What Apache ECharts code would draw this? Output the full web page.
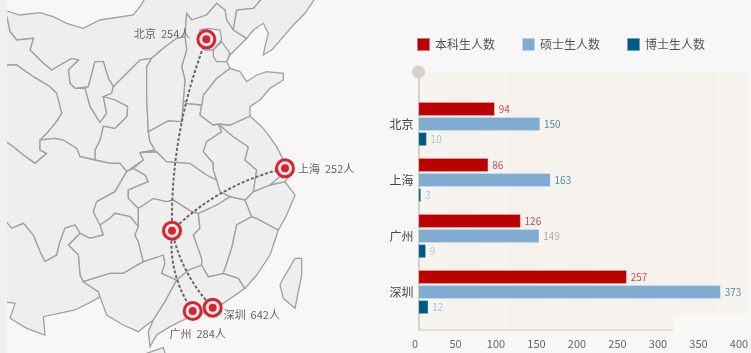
<!DOCTYPE html>
<html>
<head>
<meta charset="utf-8">
<title>学生人数分布</title>
<script src="https://cdn.jsdelivr.net/npm/echarts@6/dist/echarts.min.js"></script>
<style>
  html, body { margin: 0; padding: 0; background: #f7f7f7; overflow: hidden; }
  #chart { width: 751px; height: 353px; filter: blur(0.5px); }
</style>
</head>
<body>
<div id="chart"></div>
<script>
// bar chart data
const cities = ["北京", "上海", "广州", "深圳"]
const seriesNames = ["本科生人数", "硕士生人数", "博士生人数"]
const undergrad = [94, 86, 126, 257]
const master = [150, 163, 149, 373]
const doctor = [10, 3, 9, 12]

// map data: people per city, hub of the routes
const mapCities = ["北京", "上海", "广州", "深圳"]
const people = [254, 252, 284, 642]
const hub = "长沙"

// outline coordinates of the map, in trace units (y grows downward)
const cityCoords = {
  北京: [619, 118],
  上海: [855, 505],
  广州: [578, 933],
  深圳: [638, 923],
  长沙: [516, 692],
}
const provinces = {
  内蒙古: [[10, 30], [60, 45], [120, 38], [160, 50], [200, 70], [250, 85], [300, 60], [400, 45], [420, 20], [445, -20], [800, -20], [760, 25], [710, 30], [700, 90], [680, 60], [675, 30], [650, 10], [620, 45], [575, 60], [560, 40], [555, 110], [530, 115], [490, 145], [455, 175], [420, 180], [385, 215], [340, 260], [325, 235], [310, 185], [285, 185], [265, 260], [225, 265], [210, 250], [205, 210], [235, 180], [215, 175], [155, 210], [130, 190], [90, 150], [100, 115], [50, 120], [30, 95], [20, 50]],
  宁夏: [[265, 260], [285, 185], [310, 185], [325, 235], [340, 260], [335, 280], [310, 290], [320, 340], [300, 368], [270, 320], [255, 265]],
  陕西: [[340, 260], [385, 215], [420, 180], [455, 175], [440, 200], [440, 290], [445, 395], [450, 425], [465, 450], [420, 458], [430, 480], [400, 500], [380, 515], [360, 490], [330, 490], [285, 480], [285, 450], [300, 420], [310, 378], [345, 385], [380, 350], [383, 320], [345, 300], [310, 290], [335, 280]],
  甘肃: [[20, 50], [30, 95], [50, 120], [100, 115], [90, 150], [130, 190], [155, 210], [215, 175], [235, 180], [205, 210], [210, 250], [225, 265], [255, 265], [270, 320], [300, 368], [320, 340], [310, 290], [345, 300], [383, 320], [380, 350], [345, 385], [310, 378], [300, 420], [285, 450], [285, 480], [240, 470], [230, 445], [190, 420], [165, 415], [120, 420], [140, 400], [165, 370], [185, 340], [170, 280], [150, 260], [100, 230], [50, 195], [10, 195], [10, 40]],
  青海: [[10, 195], [50, 195], [100, 230], [150, 260], [170, 280], [185, 340], [165, 370], [140, 400], [120, 420], [120, 450], [140, 460], [105, 490], [70, 465], [40, 440], [10, 420]],
  四川: [[10, 420], [40, 440], [70, 465], [105, 490], [140, 460], [120, 450], [120, 420], [165, 415], [190, 420], [230, 445], [240, 470], [285, 480], [330, 490], [360, 490], [380, 515], [345, 575], [290, 605], [280, 635], [300, 675], [310, 705], [270, 715], [240, 700], [225, 675], [195, 685], [180, 725], [170, 765], [135, 785], [120, 755], [100, 705], [70, 670], [35, 685], [10, 655]],
  重庆: [[380, 515], [400, 505], [435, 525], [445, 545], [385, 570], [385, 595], [415, 625], [415, 680], [390, 650], [345, 640], [330, 655], [300, 675], [280, 635], [290, 605], [345, 575]],
  贵州: [[205, 735], [240, 700], [270, 715], [310, 705], [300, 675], [330, 655], [345, 640], [390, 650], [415, 680], [405, 705], [415, 725], [430, 785], [370, 820], [330, 820], [250, 845], [240, 825], [235, 765]],
  云南: [[10, 655], [35, 685], [70, 670], [100, 705], [120, 755], [135, 785], [170, 765], [180, 725], [195, 685], [225, 675], [240, 700], [205, 735], [235, 765], [240, 825], [250, 845], [295, 875], [300, 890], [275, 905], [225, 930], [130, 950], [135, 1005], [80, 985], [30, 955], [45, 910], [10, 905]],
  广西: [[250, 845], [330, 820], [370, 820], [430, 785], [490, 765], [495, 790], [485, 820], [530, 840], [495, 905], [460, 960], [440, 975], [415, 995], [370, 975], [320, 945], [300, 890], [295, 875]],
  广东: [[530, 840], [565, 810], [605, 795], [625, 830], [670, 820], [715, 835], [735, 865], [670, 910], [610, 940], [560, 955], [510, 980], [470, 1005], [450, 1040], [445, 995], [460, 960], [495, 905]],
  海南: [[425, 1065], [490, 1043], [497, 1065]],
  湖南: [[415, 625], [460, 595], [500, 605], [520, 600], [575, 635], [595, 640], [600, 685], [580, 705], [605, 775], [605, 795], [565, 810], [530, 840], [485, 820], [495, 790], [490, 765], [430, 785], [415, 725], [405, 705], [415, 680]],
  江西: [[595, 640], [650, 615], [690, 590], [735, 600], [755, 650], [710, 675], [695, 745], [670, 820], [625, 830], [605, 795], [605, 775], [580, 705], [600, 685]],
  福建: [[755, 650], [770, 655], [835, 690], [810, 765], [770, 825], [735, 865], [715, 835], [670, 820], [695, 745], [710, 675]],
  浙江: [[735, 600], [760, 575], [810, 555], [855, 545], [885, 585], [860, 645], [835, 690], [770, 655], [755, 650]],
  湖北: [[420, 458], [470, 455], [500, 485], [570, 490], [620, 525], [650, 540], [660, 575], [690, 590], [650, 615], [595, 640], [575, 635], [520, 600], [500, 605], [460, 595], [415, 625], [385, 595], [385, 570], [445, 545], [435, 525], [400, 505], [430, 480]],
  河南: [[445, 395], [505, 362], [545, 365], [550, 300], [560, 310], [605, 315], [600, 345], [640, 375], [655, 372], [665, 395], [620, 425], [610, 455], [640, 490], [640, 510], [650, 540], [620, 525], [570, 490], [500, 485], [470, 455], [420, 458], [465, 450], [450, 425]],
  安徽: [[655, 372], [700, 410], [745, 440], [735, 480], [770, 510], [760, 575], [735, 600], [690, 590], [660, 575], [650, 540], [640, 510], [640, 490], [610, 455], [620, 425], [665, 395]],
  江苏: [[655, 372], [690, 375], [750, 348], [790, 385], [830, 440], [850, 480], [840, 530], [810, 555], [760, 575], [770, 510], [735, 480], [745, 440], [700, 410]],
  上海市: [[825, 505], [850, 480], [880, 510], [855, 545], [810, 555], [840, 530]],
  山东: [[610, 285], [650, 235], [690, 205], [720, 215], [740, 245], [770, 225], [800, 215], [850, 220], [850, 240], [810, 265], [780, 300], [750, 320], [750, 348], [690, 375], [655, 372], [640, 375], [600, 345], [605, 315]],
  河北: [[560, 40], [575, 60], [620, 45], [650, 10], [675, 30], [680, 60], [700, 90], [740, 115], [720, 135], [690, 165], [680, 185], [690, 205], [650, 235], [610, 285], [605, 315], [560, 310], [550, 300], [555, 240], [545, 200], [560, 150], [555, 110]],
  山西: [[455, 175], [490, 145], [530, 115], [555, 110], [560, 150], [545, 200], [555, 240], [550, 300], [545, 365], [505, 362], [445, 395], [440, 290], [440, 200]],
  北京市: [[600, 90], [625, 85], [660, 90], [665, 120], [640, 150], [615, 150], [595, 130]],
  天津: [[640, 150], [665, 125], [690, 160], [680, 185], [650, 185], [640, 170]],
  辽宁: [[700, 90], [710, 30], [760, 25], [800, -20], [955, -20], [915, 40], [880, 75], [850, 110], [815, 150], [790, 165], [795, 140], [805, 100], [790, 70], [760, 90], [740, 115]],
  台湾: [[850, 835], [885, 775], [905, 775], [905, 825], [885, 925], [850, 895], [840, 855]],
}
const routeCurve = { 北京: 0.1, 上海: 0.14, 广州: -0.18, 深圳: -0.14 }

const mapFeatures = Object.keys(provinces).map((name) => {
  const ring = provinces[name].map((p) => [p[0], -p[1]])
  ring.push(ring[0])
  return {
    type: "Feature",
    properties: { name },
    geometry: { type: "Polygon", coordinates: [ring] },
  }
})
echarts.registerMap("eastChina", { type: "FeatureCollection", features: mapFeatures })

const toCoord = (name) => [cityCoords[name][0], -cityCoords[name][1]]
const fontFamily = '"Noto Sans CJK SC", "Noto Sans", sans-serif'

const cityLabels = {
  北京: { position: "left", distance: 6, offset: [0, -6] },
  上海: { position: "right", distance: 3, offset: [0, 0] },
  广州: { position: "bottom", distance: 3, offset: [5, 4] },
  深圳: { position: "right", distance: 1, offset: [0, 7] },
}

const barLabelColors = [
  ["#cc4a4a", "#cc4a4a", "#cc4a4a", "#cc4a4a"],
  ["#4d8da5", "#4d8da5", "#aaaaaa", "#4d8da5"],
  ["#a3c3de", "#a3c3de", "#a3c3de", "#a3c3de"],
]
const barColors = ["#bb0000", "#7facd0", "#005a86"]

const makeBar = (name, values, i) => ({
  name,
  type: "bar",
  xAxisIndex: 0,
  yAxisIndex: 0,
  barWidth: 13.5,
  barGap: "12%",
  barCategoryGap: "20%",
  itemStyle: { color: barColors[i], borderColor: "rgba(255,255,255,0.45)", borderWidth: 0.5 },
  data: values.map((v, k) => ({
    value: v,
    label: { color: barLabelColors[i][k] },
  })),
  label: { show: true, position: "right", distance: 4, fontSize: 10, fontFamily },
})

const chart = echarts.init(document.getElementById("chart"))
chart.setOption({
  animation: false,
  backgroundColor: "#f7f7f7",
  graphic: [
    { type: "rect", shape: { x: 0, y: 0, width: 7, height: 353 }, style: { fill: "#f0f0f0" }, z: 100 },
    // pale smudge over the lower right corner of the plot
    {
      type: "rect",
      shape: { x: 674, y: 316, width: 72, height: 16 },
      style: { fill: "#fbf9f6", shadowBlur: 7, shadowColor: "#fbf9f6" },
      z: 100,
    },
  ],
  geo: {
    map: "eastChina",
    roam: false,
    silent: true,
    aspectScale: 1,
    left: 0,
    top: 0,
    width: 751,
    height: 353,
    boundingCoords: [[0, 0], [2253, -1059]],
    label: { show: false },
    itemStyle: { areaColor: "#eeeeee", borderColor: "#a0a0a0", borderWidth: 1.3 },
    emphasis: { disabled: true },
  },
  legend: {
    left: 416,
    top: 37,
    padding: 0,
    icon: "rect",
    itemWidth: 13,
    itemHeight: 13,
    itemGap: 26,
    textStyle: { fontSize: 12, color: "#555555", fontFamily },
    data: seriesNames,
  },
  grid: [
    { left: 418.5, right: 8.5, top: 96, bottom: 33, outerBoundsMode: "none" },
    { left: 418.5, right: 5, top: 72, bottom: 23, outerBoundsMode: "none" },
  ],
  xAxis: [
    {
      type: "value",
      gridIndex: 0,
      min: 0,
      max: 400,
      interval: 50,
      offset: 10,
      axisLine: { show: true, lineStyle: { color: "#ded8cc", width: 1.5 } },
      axisTick: { show: false },
      splitLine: { show: false },
      axisLabel: { fontSize: 11, color: "#666666", margin: 8, padding: [0, 7, 0, 0], fontFamily },
    },
    {
      type: "value",
      gridIndex: 1,
      min: 0,
      max: 11,
      interval: 1,
      axisLine: { show: false },
      axisTick: { show: false },
      axisLabel: { show: false },
      splitLine: { show: false },
      splitArea: { show: true, areaStyle: { color: ["#f7f4ef", "#f5f2ed"] } },
    },
  ],
  yAxis: [
    {
      type: "category",
      gridIndex: 0,
      inverse: true,
      data: cities,
      axisLine: { show: false },
      axisTick: { show: false },
      axisLabel: { fontSize: 12, color: "#444444", margin: 5, padding: [0, 0, 4, 0], fontFamily },
    },
    {
      type: "value",
      gridIndex: 1,
      axisLine: {
        show: true,
        lineStyle: { color: "#d8d2c8", width: 2 },
        symbol: ["none", "circle"],
        symbolSize: [13, 13],
      },
      axisTick: { show: false },
      axisLabel: { show: false },
      splitLine: { show: false },
    },
  ],
  series: [
    makeBar(seriesNames[0], undergrad, 0),
    makeBar(seriesNames[1], master, 1),
    makeBar(seriesNames[2], doctor, 2),
    {
      type: "lines",
      coordinateSystem: "geo",
      silent: true,
      lineStyle: { color: "#666666", width: 2, type: [3, 2], opacity: 1 },
      data: mapCities.map((name) => ({
        coords: [toCoord(hub), toCoord(name)],
        lineStyle: { curveness: routeCurve[name] },
      })),
    },
    {
      type: "scatter",
      coordinateSystem: "geo",
      silent: true,
      symbolSize: 17,
      itemStyle: { color: "#f6e8e8", borderColor: "#d3262e", borderWidth: 3, opacity: 1 },
      label: {
        show: true,
        fontSize: 11,
        color: "#666666",
        fontFamily,
        formatter: (p) => p.data.text,
      },
      data: mapCities
        .map((name, i) => ({
          value: toCoord(name),
          text: name + "  " + people[i] + "人",
          label: cityLabels[name],
        }))
        .concat([{ value: toCoord(hub), label: { show: false } }]),
      z: 5,
    },
    {
      type: "scatter",
      coordinateSystem: "geo",
      silent: true,
      symbolSize: 8,
      itemStyle: { color: "#d3262e", opacity: 1 },
      data: mapCities.concat([hub]).map((name) => toCoord(name)),
      z: 6,
    },
  ],
})
</script>
</body>
</html>
